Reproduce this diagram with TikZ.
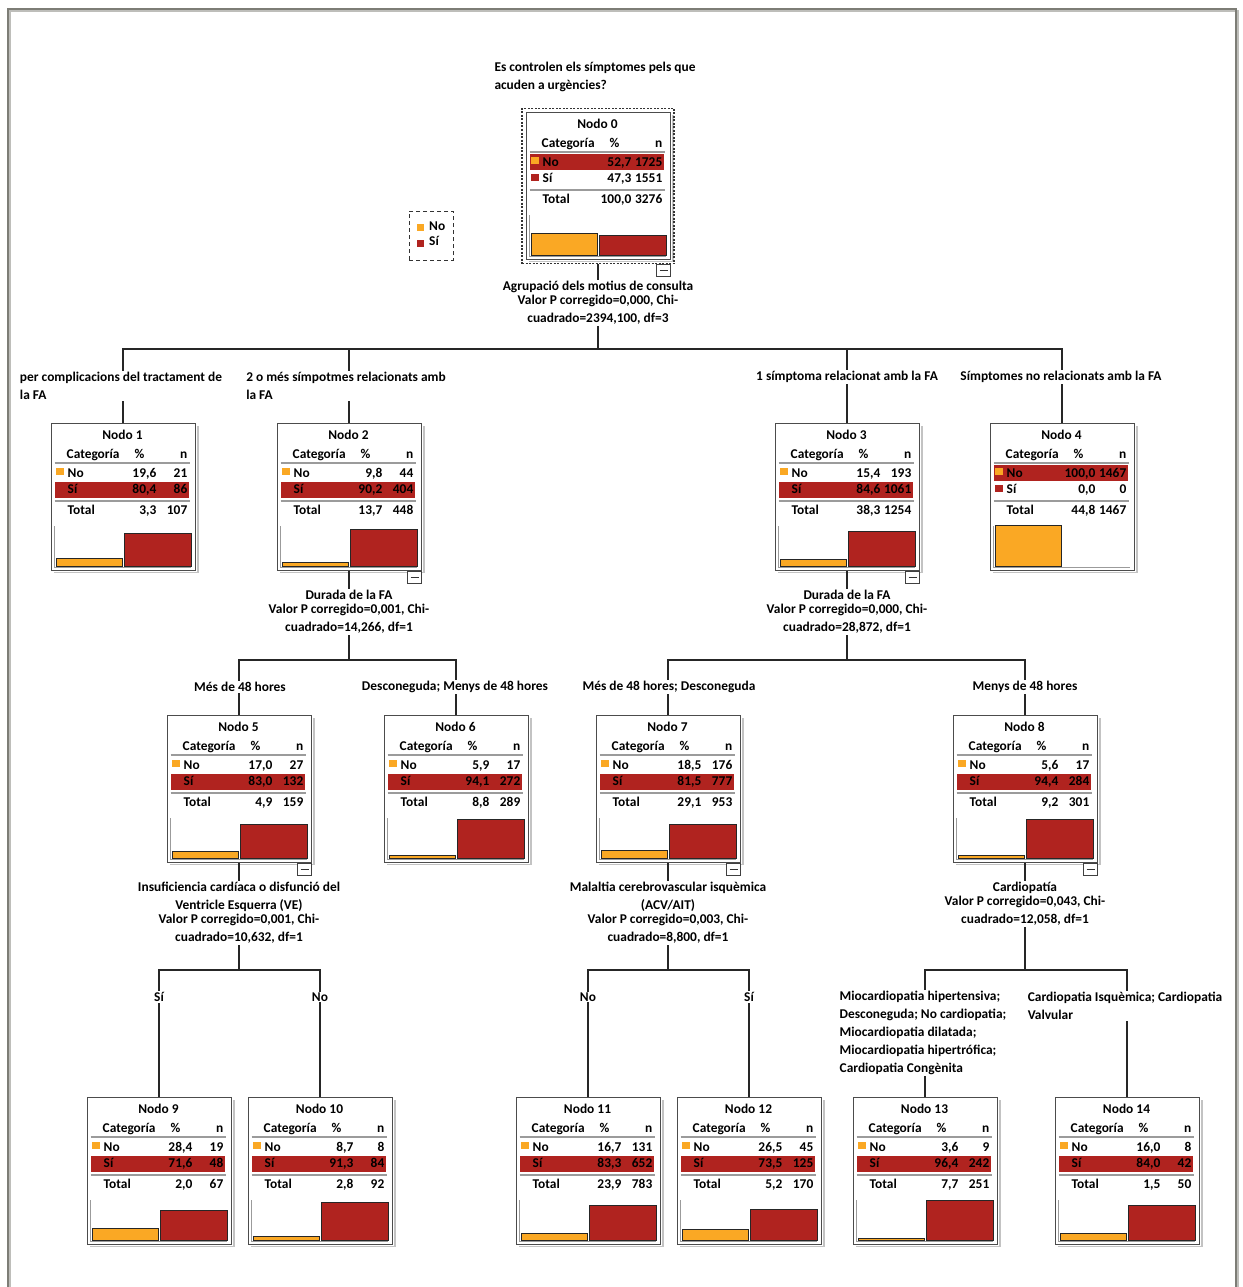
\documentclass[tikz,border=0pt]{standalone}
\usepackage{fontspec}
\setmainfont{Carlito}
\usetikzlibrary{calc,fit}

\definecolor{barorange}{RGB}{250,168,36}
\definecolor{barred}{RGB}{176,35,31}
\definecolor{rulegray}{RGB}{155,155,155}
\definecolor{framegray}{RGB}{125,125,118}

\newcommand\labelfont{\bfseries\fontsize{13.4pt}{18pt}\selectfont}

\tikzset{
  treebox/.style={draw=black!70, line width=1pt, minimum width=144pt,
    minimum height=147pt, inner sep=0pt, anchor=north, fill=white},
  cell/.style={inner sep=0pt},
  conn/.style={draw=black!85, line width=1.3pt},
  lbl/.style={fill=white, inner sep=1pt},
  barline/.style={draw=black!85, line width=0.9pt},
}

% box of a tree node: name, centre x, top y, number, highlighted row (1 = No, 2 = Si)
\newcommand\treebox[5]{%
  \node[treebox] (#1) at (#2,#3) {};
  \draw[rulegray!60, line width=1.2pt] ($(#1.north east)+(2.5,3)$) -- ++(0,146.5) -- ++(-144,0);
  \begin{scope}[shift={(#1.north west)}]
    \ifnum#5=1 \fill[barred] (4,42) rectangle (138,58);
    \else \fill[barred] (4,59) rectangle (138,75); \fi
    \fill[barorange] (5,45) rectangle (13,52);
    \fill[barred] (5,62) rectangle (13,69);
    \draw[rulegray, line width=2pt] (4,39.5) -- (139,39.5) (4,77.5) -- (139,77.5);
    \node[cell, anchor=mid] (#1-title) at (72,14) {Nodo #4};
    \node[cell, anchor=mid west] (#1-hcat) at (16,33) {Categoría};
    \node[cell, anchor=mid] (#1-hpct) at (89,33) {\%};
    \node[cell, anchor=mid east] (#1-hn) at (137,33) {n};
    \node[cell, anchor=mid west] (#1-no) at (17,52) {No};
    \node[cell, anchor=mid west] (#1-si) at (17,68.5) {Sí};
    \node[cell, anchor=mid west] (#1-tot) at (17,89) {Total};
    \draw[rulegray, line width=1.2pt] (4,103) -- (4,144.5) -- (140,144.5);
  \end{scope}}

% figures of a tree node: name, No %, No n, Si %, Si n, Total %, Total n, No bar, Si bar
\newcommand\treedata[9]{%
  \begin{scope}[shift={(#1.north west)}]
    \node[cell, anchor=mid east] (#1-nop) at (106,52) {#2};
    \node[cell, anchor=mid east] (#1-non) at (137,52) {#3};
    \node[cell, anchor=mid east] (#1-sip) at (106,68.5) {#4};
    \node[cell, anchor=mid east] (#1-sin) at (137,68.5) {#5};
    \node[cell, anchor=mid east] (#1-tp) at (106,89) {#6};
    \node[cell, anchor=mid east] (#1-tn) at (137,89) {#7};
    \ifdim#8pt>0pt \filldraw[barline, fill=barorange] (6,143) rectangle (72,{143-0.41*#8}); \fi
    \ifdim#9pt>0pt \filldraw[barline, fill=barred] (74,143) rectangle (141,{143-0.41*#9}); \fi
  \end{scope}}

% collapse marker under the lower right corner: name, vertical offset
\newcommand\collapsebox[2]{%
  \begin{scope}[shift={(#1.south east)}]
    \draw[black!75, line width=0.9pt, fill=white] (-14,#2) rectangle (0,{#2+12});
    \draw[black!80, line width=0.9pt] (-11,{#2+6}) -- (-3,{#2+6});
  \end{scope}}

\begin{document}
\begin{tikzpicture}[x=1pt, y=-1pt, font=\labelfont]
\useasboundingbox (0,0) rectangle (1242,1287);
\fill[white] (0,0) rectangle (1242,1287);

% page frame
\draw[framegray!50, line width=1.5pt] (10,1290) -- (10,11) -- (1238,11) -- (1238,1290);
\draw[framegray, line width=1.2pt] (8,1290) -- (8,9) -- (1236,9) -- (1236,1290);

% question
\node[align=left, inner sep=0pt] (question) at (595,77)
  {Es controlen els símptomes pels que\\acuden a urgències?};

% legend
\node[draw=black!80, dash pattern=on 4pt off 3pt, line width=1pt,
  minimum width=44pt, minimum height=49pt, inner sep=0pt] (legend) at (431,235.5) {};
\fill[barorange] (417,224) rectangle (424,231);
\fill[barred] (417,240) rectangle (424,247);
\node[cell, anchor=mid west] (legno) at (429,228) {No};
\node[cell, anchor=mid west] (legsi) at (429,243) {Sí};

% tree nodes
\treebox{n0}{598}{112}{0}{1}
\treedata{n0}{52,7}{1725}{47,3}{1551}{100,0}{3276}{52.7}{47.3}
\node[draw=black!80, dash pattern=on 2pt off 1.5pt, line width=1.2pt,
  fit=(n0), inner sep=3.5pt] (n0sel) {};
\collapsebox{n0}{4}

\treebox{n1}{123}{423}{1}{2}
\treedata{n1}{19,6}{21}{80,4}{86}{3,3}{107}{19.6}{80.4}
\treebox{n2}{349}{423}{2}{2}
\treedata{n2}{9,8}{44}{90,2}{404}{13,7}{448}{9.8}{90.2}
\collapsebox{n2}{0}
\treebox{n3}{847}{423}{3}{2}
\treedata{n3}{15,4}{193}{84,6}{1061}{38,3}{1254}{15.4}{84.6}
\collapsebox{n3}{0}
\treebox{n4}{1062}{423}{4}{1}
\treedata{n4}{100,0}{1467}{0,0}{0}{44,8}{1467}{100.0}{0.0}

\treebox{n5}{239}{715}{5}{2}
\treedata{n5}{17,0}{27}{83,0}{132}{4,9}{159}{17.0}{83.0}
\collapsebox{n5}{0}
\treebox{n6}{456}{715}{6}{2}
\treedata{n6}{5,9}{17}{94,1}{272}{8,8}{289}{5.9}{94.1}
\treebox{n7}{668}{715}{7}{2}
\treedata{n7}{18,5}{176}{81,5}{777}{29,1}{953}{18.5}{81.5}
\collapsebox{n7}{0}
\treebox{n8}{1025}{715}{8}{2}
\treedata{n8}{5,6}{17}{94,4}{284}{9,2}{301}{5.6}{94.4}
\collapsebox{n8}{0}

\treebox{n9}{159}{1097}{9}{2}
\treedata{n9}{28,4}{19}{71,6}{48}{2,0}{67}{28.4}{71.6}
\treebox{n10}{320}{1097}{10}{2}
\treedata{n10}{8,7}{8}{91,3}{84}{2,8}{92}{8.7}{91.3}
\treebox{n11}{588}{1097}{11}{2}
\treedata{n11}{16,7}{131}{83,3}{652}{23,9}{783}{16.7}{83.3}
\treebox{n12}{749}{1097}{12}{2}
\treedata{n12}{26,5}{45}{73,5}{125}{5,2}{170}{26.5}{73.5}
\treebox{n13}{925}{1097}{13}{2}
\treedata{n13}{3,6}{9}{96,4}{242}{7,7}{251}{3.6}{96.4}
\treebox{n14}{1127}{1097}{14}{2}
\treedata{n14}{16,0}{8}{84,0}{42}{1,5}{50}{16.0}{84.0}

% connectors
\coordinate (bus0) at (598,349);
\coordinate (bus2) at (349,660);
\coordinate (bus3) at (847,660);
\coordinate (bus5) at (239,970);
\coordinate (bus7) at (668,970);
\coordinate (bus8) at (1025,970);
\foreach \c in {n1,n2,n3,n4} \draw[conn] (n0sel.south) -- (bus0) -| (\c.north);
\foreach \c in {n5,n6} \draw[conn] (n2.south) -- (bus2) -| (\c.north);
\foreach \c in {n7,n8} \draw[conn] (n3.south) -- (bus3) -| (\c.north);
\foreach \c in {n9,n10} \draw[conn] (n5.south) -- (bus5) -| (\c.north);
\foreach \c in {n11,n12} \draw[conn] (n7.south) -- (bus7) -| (\c.north);
\foreach \c in {n13,n14} \draw[conn] (n8.south) -- (bus8) -| (\c.north);

% split criteria
\node[lbl, align=center] (split0) at (598,303)
  {Agrupació dels motius de consulta\\[-4pt]Valor P corregido=0,000, Chi-\\cuadrado=2394,100, df=3};
\node[lbl, align=center] (split2) at (349,612)
  {Durada de la FA\\[-4pt]Valor P corregido=0,001, Chi-\\cuadrado=14,266, df=1};
\node[lbl, align=center] (split3) at (847,612)
  {Durada de la FA\\[-4pt]Valor P corregido=0,000, Chi-\\cuadrado=28,872, df=1};
\node[lbl, align=center] (split5) at (239,913)
  {Insuficiencia cardíaca o disfunció del\\Ventricle Esquerra (VE)\\[-4pt]Valor P corregido=0,001, Chi-\\cuadrado=10,632, df=1};
\node[lbl, align=center] (split7) at (668,913)
  {Malaltia cerebrovascular isquèmica\\(ACV/AIT)\\[-4pt]Valor P corregido=0,003, Chi-\\cuadrado=8,800, df=1};
\node[lbl, align=center] (split8) at (1025,904)
  {Cardiopatía\\[-4pt]Valor P corregido=0,043, Chi-\\cuadrado=12,058, df=1};

% branch labels
\node[lbl, align=left] (e1) at (121,386) {per complicacions del tractament de\\la FA};
\node[lbl, align=left] (e2) at (346,386) {2 o més símpotmes relacionats amb\\la FA};
\node[lbl] (e3) at (847,377) {1 símptoma relacionat amb la FA};
\node[lbl] (e4) at (1061,377) {Símptomes no relacionats amb la FA};
\node[lbl] (e5) at (240,687) {Més de 48 hores};
\node[lbl] (e6) at (455,687) {Desconeguda; Menys de 48 hores};
\node[lbl] (e7) at (669,687) {Més de 48 hores; Desconeguda};
\node[lbl] (e8) at (1025,687) {Menys de 48 hores};
\node[lbl] (e9) at (159,997) {Sí};
\node[lbl] (e10) at (320,997) {No};
\node[lbl] (e11) at (588,997) {No};
\node[lbl] (e12) at (749,997) {Sí};
\node[lbl, align=left] (e13) at (923,1033)
  {Miocardiopatia hipertensiva;\\Desconeguda; No cardiopatia;\\Miocardiopatia dilatada;\\Miocardiopatia hipertrófica;\\Cardiopatia Congènita};
\node[lbl, align=left] (e14) at (1125,1006) {Cardiopatia Isquèmica; Cardiopatia\\Valvular};
\end{tikzpicture}
\end{document}
